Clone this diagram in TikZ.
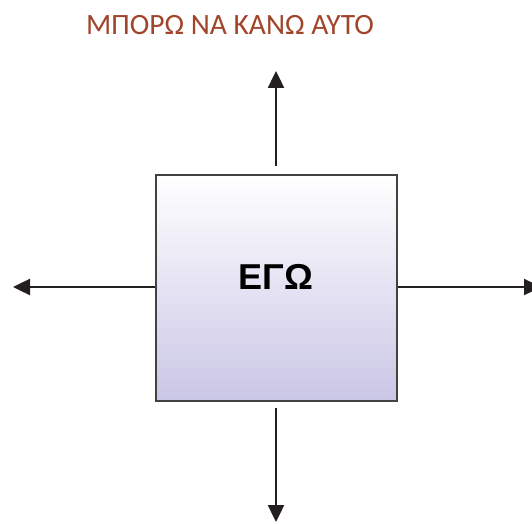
\documentclass[tikz,border=0pt]{standalone}
\usepackage{fontspec}
\setmainfont{Liberation Sans}
\newfontfamily\labelfont{Carlito}
\usetikzlibrary{arrows.meta}
\definecolor{inkdark}{HTML}{231F20}
\definecolor{rust}{HTML}{A0442A}
\definecolor{lavender}{HTML}{CAC6E6}
\tikzset{
  x=1pt, y=1pt,
  selfbox/.style={draw=inkdark!85, line width=1.6pt, minimum width=241pt, minimum height=226pt,
    top color=white, bottom color=lavender, inner sep=0pt},
  selftext/.style={font=\bfseries\fontsize{36}{40}\selectfont, text=black},
  headline/.style={font=\labelfont\fontsize{29.5}{33}\selectfont, text=rust},
  ray/.style={draw=inkdark, line width=2.4pt, -{Triangle[length=17pt,width=16pt]}}
}
\begin{document}
\begin{tikzpicture}
  \useasboundingbox (0,0) rectangle (532,523);
  \node[headline] (title) at (230,498) {ΜΠΟΡΩ ΝΑ ΚΑΝΩ ΑΥΤΟ};
  \node[selfbox] (ego) at (276.5,235) {};
  \node[selftext] (egotext) at (276,246) {ΕΓΩ};
  % arrow ends
  \coordinate (upend) at (276,452);
  \coordinate (leftend) at (13,236);
  \coordinate (rightend) at (541,236);
  \coordinate (downend) at (276,1);
  \draw[ray] ([yshift=8pt]ego.north -| upend) -- (upend);
  \draw[ray] (ego.west |- leftend) -- (leftend);
  \draw[ray] (ego.east |- rightend) -- (rightend);
  \draw[ray] ([yshift=-6pt]ego.south -| downend) -- (downend);
\end{tikzpicture}
\end{document}
